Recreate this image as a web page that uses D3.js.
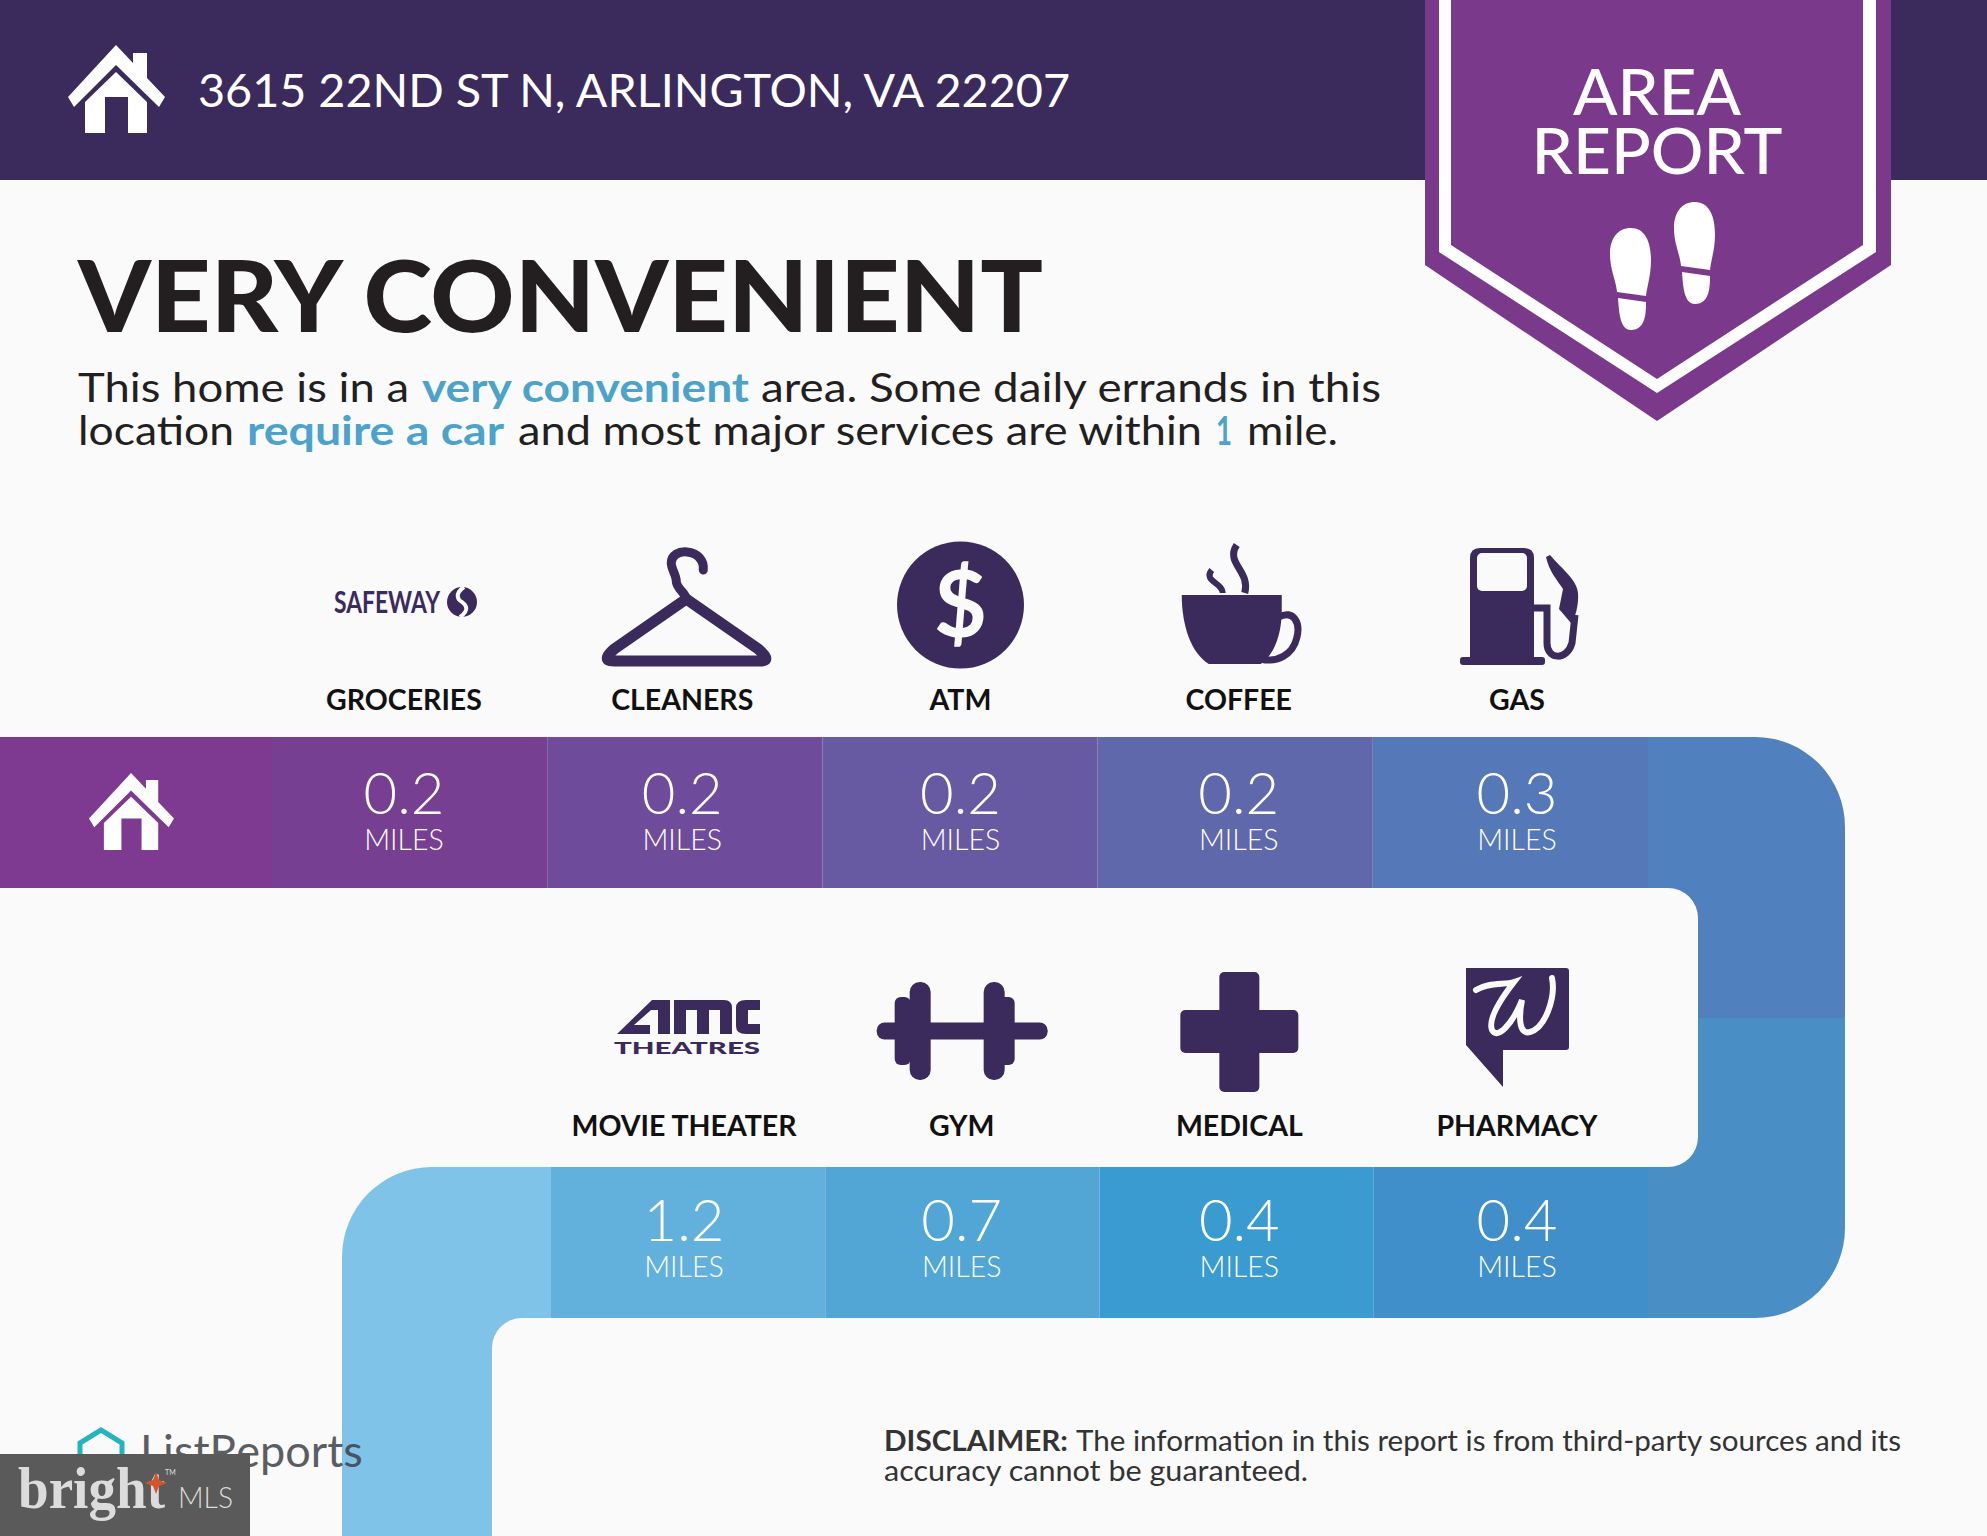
<!DOCTYPE html>
<html><head><meta charset="utf-8">
<script src="https://cdn.jsdelivr.net/npm/d3@7"></script>
<style>html,body{margin:0;padding:0;background:#fafafa}svg{display:block}text{font-family:Lato,"Open Sans",sans-serif}</style>
</head><body><svg id="c" width="1987" height="1536" viewBox="0 0 1987 1536"></svg>
<script>
const address = "3615 22ND ST N, ARLINGTON, VA 22207";
const headline = "VERY CONVENIENT";
const row1Categories = ["GROCERIES","CLEANERS","ATM","COFFEE","GAS"];
const row1Miles = [0.2,0.2,0.2,0.2,0.3];
const row2Categories = ["MOVIE THEATER","GYM","MEDICAL","PHARMACY"];
const row2Miles = [1.2,0.7,0.4,0.4];
const row1Colors = ["#773f92","#6f4c9b","#675aa3","#5f68ab","#5478b8"];
const row2Colors = ["#62b1dd","#52a6d6","#3a9bd1","#408fca"];

const W=1987,H=1536;
const svg=d3.select("#c");
const dark="#3b2a5c", purple="#7b398c", bg="#fafafa", ink="#231f20", blue="#4ba3cb";
svg.append("rect").attr("width",W).attr("height",H).attr("fill",bg);

function fit(s,w){return s.attr("textLength",w).attr("lengthAdjust","spacingAndGlyphs");}
function txt(p,t,x,y,size,weight,fill,anchor){
  return p.append("text").text(t).attr("x",x).attr("y",y).attr("font-size",size)
   .attr("font-weight",weight).attr("fill",fill).attr("text-anchor",anchor||"start");
}
function home(g){
  g.append("path").attr("fill","#fff").attr("d","M48,0 L65,18 V8 H79 V33 L97,52 L91,62 L48,20 L6,62 L0,52 Z");
  g.append("path").attr("fill","#fff").attr("d","M17,57 L48,27 L79,57 V88 H60 V52 H37 V88 H17 Z");
}

// Header
svg.append("rect").attr("width",W).attr("height",180).attr("fill",dark);
home(svg.append("g").attr("transform","translate(68,45)"));
fit(txt(svg,address,198,107,46,400,"#fff"),872);

// Badge
svg.append("path").attr("fill",purple).attr("d","M1425,0 H1891 V265 L1657,421 L1425,265 Z");
svg.append("path").attr("fill","#fff").attr("d","M1439,0 H1876 V252 L1657,393 L1439,252 Z");
svg.append("path").attr("fill",purple).attr("d","M1451,0 H1863 V245 L1657,379 L1451,245 Z");
fit(txt(svg,"AREA",1657,115,63,500,"#fff","middle"),168);
fit(txt(svg,"REPORT",1657,174,63,500,"#fff","middle"),251);
function foot(g){
  g.append("path").attr("fill","#fff").attr("d","M21,0 C35,0 41,14 41,32 C41,48 37,58 36,68 L7,64 C6,52 0,42 0,26 C0,10 8,0 21,0 Z");
  g.append("path").attr("fill","#fff").attr("d","M8,70 L36,74 C36,84 36,102 21,102 C10,102 9,84 8,70 Z");
}
foot(svg.append("g").attr("transform","translate(1610,228)"));
foot(svg.append("g").attr("transform","translate(1674,202)"));

// Headline
fit(txt(svg,headline,78,332,100,900,ink),965);
const para=[["This home is in a",78,331,402,400,ink],["very convenient",422,327,402,700,blue],["area. Some daily errands in this",761,620,402,400,ink],
 ["location",78,156,445,400,ink],["require a car",247,257,445,700,blue],["and most major services are within",518,684,445,400,ink],["1",1216,16,445,700,blue],["mile.",1247,91,445,400,ink]];
para.forEach(p=>fit(txt(svg,p[0],p[1],p[3],41,p[4],p[5]),p[2]));

// Ribbon
const band1=d3.scaleBand().domain(row1Categories).range([272,1648]);
const band2=d3.scaleBand().domain(row2Categories).range([551,1648]);
const rowY=d3.scaleBand().domain([0,1]).range([737,1318]);
const y1=737,h=151,y2=1167;
const label1=d3.scalePoint().domain(row1Categories).range([404,1517]);
const label2=d3.scalePoint().domain(row2Categories).range([684,1517]);

svg.append("rect").attr("x",0).attr("y",y1).attr("width",272).attr("height",h).attr("fill","#7e3a90");
svg.append("path").attr("fill","#5080bd").attr("d","M1648,737 H1755 A90,90 0 0 1 1845,827 V1018 H1698 V918 A30,30 0 0 0 1668,888 H1648 Z");
svg.append("path").attr("fill","#4a8ec6").attr("d","M1698,1018 H1845 V1228 A90,90 0 0 1 1755,1318 H1648 V1167 H1668 A30,30 0 0 0 1698,1137 Z");
svg.append("path").attr("fill","#80c3e8").attr("d","M551,1167 H432 A90,90 0 0 0 342,1257 V1536 H492 V1348 A30,30 0 0 1 522,1318 H551 Z");

svg.selectAll(".c1").data(row1Categories).join("rect").attr("class","c1")
  .attr("x",d=>band1(d)).attr("y",y1).attr("width",band1.bandwidth()).attr("height",h).attr("fill",(d,i)=>row1Colors[i]);
svg.selectAll(".c2").data(row2Categories).join("rect").attr("class","c2")
  .attr("x",d=>band2(d)).attr("y",y2).attr("width",band2.bandwidth()).attr("height",h).attr("fill",(d,i)=>row2Colors[i]);
home(svg.append("g").attr("transform","translate(89,773) scale(0.876)"));

function rowText(cats,vals,scale,labY,valY,milesY){
  cats.forEach((c,i)=>{
    txt(svg,c,scale(c),labY,28.5,700,"#111","middle");
    txt(svg,vals[i].toFixed(1),scale(c),valY,58,300,"#fff","middle");
    txt(svg,"MILES",scale(c),milesY,28.5,300,"#fff","middle");
  });
}
rowText(row1Categories,row1Miles,label1,710,814,850);
rowText(row2Categories,row2Miles,label2,1136,1241,1277);

// Icons
const ic=(x,y)=>svg.append("g").attr("transform",`translate(${x},${y})`).attr("fill",dark);
// Safeway
{const g=ic(label1("GROCERIES"),602);
 fit(txt(g,"SAFEWAY",-70,11,30,700,dark),106);
 g.append("circle").attr("cx",58).attr("cy",0).attr("r",15);
 g.append("path").attr("fill","none").attr("stroke",bg).attr("stroke-width",4).attr("d","M60,-15 C50,-8 54,-2 58,0 C62,3 66,8 56,15");
}
// Hanger
{const g=ic(label1("CLEANERS"),607);
 g.append("path").attr("fill","none").attr("stroke",dark).attr("stroke-width",11).attr("stroke-linejoin","round")
  .attr("d","M4,-8 L-68,42 Q-82,54 -68,54 H78 Q90,54 76,42 Z");
 g.append("path").attr("fill","none").attr("stroke",dark).attr("stroke-width",9).attr("stroke-linecap","round")
  .attr("d","M4,-8 C4,-14 -6,-18 -6,-26 C-6,-32 -11,-38 -11,-44 C-11,-52 -3,-56 5,-55 C15,-54 22,-47 21,-37");
}
// ATM
{const g=ic(label1("ATM"),605);
 g.append("circle").attr("r",63.5);
 txt(g,"$",0,32,92,700,bg,"middle");
}
// Coffee
{const g=ic(label1("COFFEE"),605);
 g.append("path").attr("d","M-57,-10 H43 V5 C43,30 35,50 22,59 H-30 C-48,48 -57,20 -57,-10 Z");
 g.append("path").attr("fill","none").attr("stroke",dark).attr("stroke-width",7).attr("d","M40,12 C55,4 62,18 58,33 C54,50 38,58 22,54");
 g.append("path").attr("fill","none").attr("stroke",dark).attr("stroke-width",7).attr("d","M-2,-60 C-14,-42 12,-34 6,-12");
 g.append("path").attr("fill","none").attr("stroke",dark).attr("stroke-width",6).attr("d","M-27,-35 C-36,-24 -16,-22 -16,-12");
}
// Gas
{const g=ic(label1("GAS"),605);
 g.append("path").attr("d","M-47,57 V-47 Q-47,-57 -37,-57 H7 Q17,-57 17,-47 V57 Z");
 g.append("rect").attr("x",-57).attr("y",52).attr("width",85).attr("height",8).attr("rx",3);
 g.append("rect").attr("x",-40).attr("y",-52).attr("width",50).attr("height",38).attr("rx",5).attr("fill",bg);
 g.append("path").attr("fill","none").attr("stroke",dark).attr("stroke-width",7).attr("d","M17,3 H30 V38 C30,55 50,56 55,38 L58,10");
 g.append("path").attr("d","M29,-48 L33,-50 C46,-35 60,-25 61,-12 C62,0 58,14 54,18 L42,4 L46,-16 C40,-25 32,-34 29,-48 Z");
}
// AMC
{const g=ic(label2("MOVIE THEATER"),1030);
 g.append("path").attr("d","M-67,4 L-32,-30 H-14 V4 H-26 V-20 H-33 L-50,-5 H-34 V4 Z");
 g.append("path").attr("d","M-10,-30 H40 Q48,-30 48,-22 V4 H36 V-20 H25 V4 H13 V-20 H2 V4 H-10 Z");
 g.append("path").attr("d","M52,-22 Q52,-30 62,-30 H76 V-20 H64 V-6 H76 V4 H62 Q52,4 52,-4 Z");
 fit(txt(g,"THEATRES",-70,24,17,900,dark),146);
}
// Gym
{const g=ic(label2("GYM"),1031);
 g.append("rect").attr("x",-85).attr("y",-8.5).attr("width",171).attr("height",17).attr("rx",8);
 [-67,-52,+37,+22].forEach((x,i)=>{
   const outer=i%2===0;
   g.append("rect").attr("x",outer?(x<0?x:x-5+5):x).attr("y",outer?-34:-49).attr("width",outer?16:21).attr("height",outer?68:98).attr("rx",outer?6:10);
 });
}
// Medical
{const g=ic(label2("MEDICAL"),1032);
 g.append("rect").attr("x",-20).attr("y",-60).attr("width",40).attr("height",120).attr("rx",5);
 g.append("rect").attr("x",-59).attr("y",-22).attr("width",118).attr("height",43).attr("rx",5);
}
// Pharmacy
{const g=ic(label2("PHARMACY"),1030);
 g.append("path").attr("d","M-51,-62 H49 Q52,-62 52,-59 V17 Q52,20 49,20 H-14 V57 L-51,15 Z");
 g.append("path").attr("fill","none").attr("stroke",bg).attr("stroke-width",6).attr("stroke-linecap","round")
  .attr("d","M-41,-40 C-29,-48 -12,-45 -3,-48 C-17,-30 -29,-10 -25,0 C-20,10 -5,-5 5,-30 C1,-10 3,5 13,2 C28,-2 39,-32 35,-52");
}

// Footer logo
const lr=svg.append("g");
lr.append("path").attr("fill","none").attr("stroke","#25b3c0").attr("stroke-width",5).attr("d","M80,1470 V1443 L101,1430 L122,1443 V1470");
txt(lr,"ListReports",140,1467,45,400,"#3f4248").attr("opacity",0.85);

// Disclaimer
fit(txt(svg,"DISCLAIMER:",884,1451,28,700,"#333"),184);
fit(txt(svg,"The information in this report is from third-party sources and its",1076,1451,28,400,"#333"),825);
fit(txt(svg,"accuracy cannot be guaranteed.",884,1481,28,400,"#333"),424);

// Bright MLS watermark
svg.append("rect").attr("x",0).attr("y",1454).attr("width",250).attr("height",82).attr("fill","#5a5a5a");
fit(txt(svg,"bright",18,1508,60,700,"#dcdcdc").style("font-family","'Liberation Serif',serif"),147);
fit(txt(svg,"MLS",178,1508,30,300,"#dcdcdc"),55);
txt(svg,"TM",165,1475,7,400,"#ddd");
svg.append("path").attr("fill","#d2552d").attr("d","M156,1472 L159,1480 L167,1483 L159,1486 L156,1494 L153,1486 L145,1483 L153,1480 Z");
</script></body></html>
